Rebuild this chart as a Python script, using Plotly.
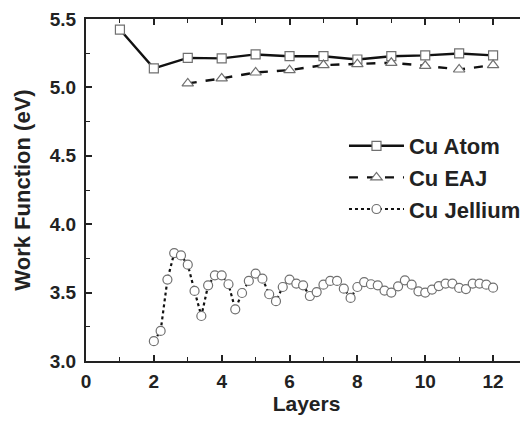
import plotly.graph_objects as go

# Data
atom_layers = [1, 2, 3, 4, 5, 6, 7, 8, 9, 10, 11, 12]
atom_wf = [5.423, 5.139, 5.216, 5.212, 5.241, 5.228, 5.228, 5.204, 5.228, 5.234, 5.248, 5.234]

eaj_layers = [3, 4, 5, 6, 7, 8, 9, 10, 11, 12]
eaj_wf = [5.029, 5.066, 5.109, 5.126, 5.163, 5.170, 5.180, 5.158, 5.131, 5.163]

jell_layers = [round(2 + 0.2 * i, 1) for i in range(51)]
jell_wf = [3.145, 3.22, 3.595, 3.789, 3.772, 3.704, 3.512, 3.329, 3.553, 3.626,
           3.626, 3.561, 3.378, 3.497, 3.585, 3.639, 3.602, 3.488, 3.437, 3.541,
           3.595, 3.566, 3.553, 3.475, 3.504, 3.558, 3.585, 3.585, 3.529, 3.461,
           3.541, 3.577, 3.561, 3.553, 3.515, 3.500, 3.546, 3.590, 3.558, 3.509,
           3.500, 3.522, 3.548, 3.566, 3.566, 3.534, 3.526, 3.566, 3.566, 3.558,
           3.536]

x_ticks = [0, 2, 4, 6, 8, 10, 12]
y_ticks = [3.0, 3.5, 4.0, 4.5, 5.0, 5.5]

FONT = "Liberation Sans, Arial, sans-serif"
mk_line = dict(color="#707070", width=1.2)

fig = go.Figure()
fig.add_trace(go.Scatter(
    x=atom_layers, y=atom_wf, name="Cu Atom", mode="lines+markers",
    line=dict(color="#111111", width=2.4, dash="solid"),
    marker=dict(symbol="square", size=9, color="white", line=mk_line)))
fig.add_trace(go.Scatter(
    x=eaj_layers, y=eaj_wf, name="Cu EAJ", mode="lines+markers",
    line=dict(color="#111111", width=2.4, dash="dash"),
    marker=dict(symbol="triangle-up", size=10, color="white", line=mk_line)))
fig.add_trace(go.Scatter(
    x=jell_layers, y=jell_wf, name="Cu Jellium", mode="lines+markers",
    line=dict(color="#111111", width=2.2, dash="dot"),
    marker=dict(symbol="circle", size=9, color="white", line=mk_line)))

axis_common = dict(
    showline=True, linecolor="#222222", linewidth=2, mirror="allticks",
    ticks="inside", ticklen=6, tickwidth=1.5, tickcolor="#222222",
    showgrid=False, zeroline=False, automargin=False,
    tickfont=dict(family=FONT, size=19, color="#222222", weight="bold"),
)

fig.update_xaxes(
    range=[0, 13], tickvals=x_ticks, ticktext=[str(v) for v in x_ticks],
    minor=dict(ticks="inside", ticklen=4, dtick=1, tick0=0, tickcolor="#222222", tickwidth=1.2),
    title=dict(text="Layers", font=dict(family=FONT, size=21, color="#222222", weight="bold"), standoff=5),
    ticklabelstandoff=2,
    **axis_common)
fig.update_yaxes(
    range=[3.0, 5.5], tickvals=y_ticks, ticktext=[f"{v:.1f}" for v in y_ticks],
    minor=dict(ticks="inside", ticklen=4, dtick=0.25, tick0=3.0, tickcolor="#222222", tickwidth=1.2),
    title=dict(text="Work Function (eV)", font=dict(family=FONT, size=22, color="#222222", weight="bold"), standoff=13),
    ticklabelstandoff=4,
    **axis_common)

fig.update_layout(
    width=520, height=413,
    margin=dict(l=78, r=1, t=11, b=60),
    paper_bgcolor="white", plot_bgcolor="white",
    showlegend=True,
    legend=dict(x=0.585, y=0.69, xanchor="left", yanchor="top",
                bgcolor="rgba(0,0,0,0)", tracegroupgap=0, itemwidth=55,
                font=dict(family=FONT, size=22, color="#222222", weight="bold")),
)

fig.write_html("out.html")
